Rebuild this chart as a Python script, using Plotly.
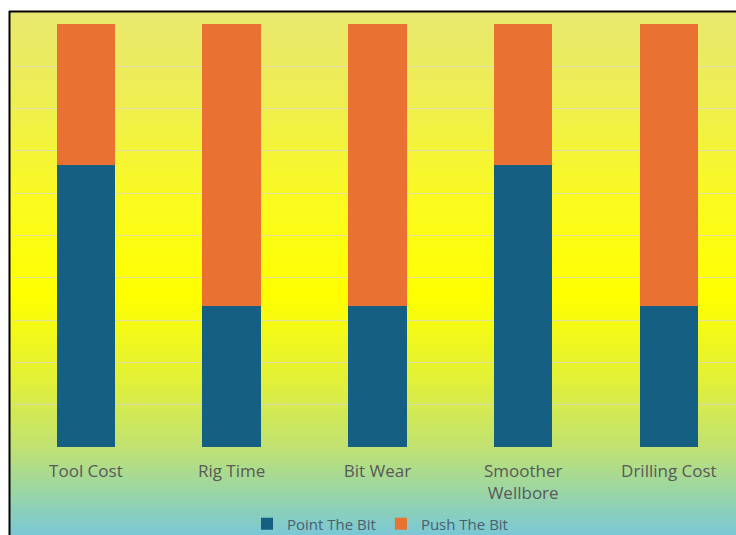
import plotly.graph_objects as go

# Comparison of steering systems (relative share per criterion)
categories = ["Tool Cost", "Rig Time", "Bit Wear", "Smoother<br>Wellbore", "Drilling Cost"]
point_the_bit = [2, 1, 1, 2, 1]
push_the_bit = [1, 2, 2, 1, 2]

W, H = 736, 535
PLOT_L, PLOT_R = 13, 736
PLOT_T, PLOT_B = 24, 447
CAT_STEP = 145.75

BLUE = "#156082"
ORANGE = "#E97132"
TEXT = "#595959"
FONT = "Open Sans"


def px_x(x):
    return (x - PLOT_L) / (PLOT_R - PLOT_L)


def px_y(y):
    return (PLOT_B - y) / (PLOT_B - PLOT_T)


# vertical background gradient of the chart area (pixel row -> rgb)
stops = [
    (11, (232, 232, 112)),
    (100, (238, 238, 82)),
    (200, (250, 250, 32)),
    (295, (255, 255, 0)),
    (380, (226, 240, 56)),
    (447, (192, 226, 114)),
    (490, (156, 214, 162)),
    (535, (122, 200, 214)),
]


def grad_color(y):
    for (y0, c0), (y1, c1) in zip(stops[:-1], stops[1:]):
        if y0 <= y <= y1:
            t = (y - y0) / (y1 - y0)
            return "rgb(%d,%d,%d)" % tuple(round(a + (b - a) * t) for a, b in zip(c0, c1))
    return "rgb(%d,%d,%d)" % stops[-1][1]


shapes = []
step = 2
y = 11
while y < H:
    shapes.append(dict(
        type="rect", xref="paper", yref="paper", layer="below",
        x0=px_x(9), x1=px_x(W + 2), y0=px_y(y + step + 0.5), y1=px_y(y),
        fillcolor=grad_color(y + step / 2), line=dict(width=0),
    ))
    y += step

# frame on the left and top edges
shapes.append(dict(type="line", xref="paper", yref="paper", x0=px_x(9.5), x1=px_x(9.5),
                   y0=px_y(11), y1=px_y(H + 2), line=dict(color="black", width=2)))
shapes.append(dict(type="line", xref="paper", yref="paper", x0=px_x(9), x1=px_x(W + 2),
                   y0=px_y(11.5), y1=px_y(11.5), line=dict(color="black", width=2)))

xs = list(range(len(categories)))

fig = go.Figure()
fig.add_trace(go.Bar(x=xs, y=point_the_bit, name="Point The Bit",
                     marker=dict(color=BLUE, line=dict(width=0)), width=0.4))
fig.add_trace(go.Bar(x=xs, y=push_the_bit, name="Push The Bit",
                     marker=dict(color=ORANGE, line=dict(width=0)), width=0.4))

fig.update_layout(
    width=W, height=H,
    barmode="stack", barnorm="fraction",
    margin=dict(l=PLOT_L, r=W - PLOT_R, t=PLOT_T, b=H - PLOT_B, pad=0, autoexpand=False),
    paper_bgcolor="white", plot_bgcolor="rgba(0,0,0,0)",
    font=dict(family=FONT, size=16, color=TEXT),
    shapes=shapes,
    showlegend=True,
    legend=dict(orientation="h", x=px_x(380), xanchor="center", y=px_y(524), yanchor="middle",
                font=dict(family=FONT, size=15, color="#4A5F6E"),
                bgcolor="rgba(0,0,0,0)", itemwidth=30, tracegroupgap=0,
                traceorder="normal"),
    xaxis=dict(
        tickmode="array", tickvals=xs, ticktext=categories,
        range=[-0.5, -0.5 + (PLOT_R - PLOT_L) / CAT_STEP],
        showgrid=False, zeroline=False, showline=False,
        ticks="", ticklabelstandoff=12,
        tickfont=dict(family=FONT, size=17, color=TEXT),
    ),
    yaxis=dict(
        range=[0, 1], dtick=0.1, tick0=0,
        showticklabels=False, showgrid=True,
        gridcolor="rgba(215,215,205,0.75)", gridwidth=1,
        zeroline=False, showline=False, ticks="",
    ),
)

fig.write_html("out.html")
